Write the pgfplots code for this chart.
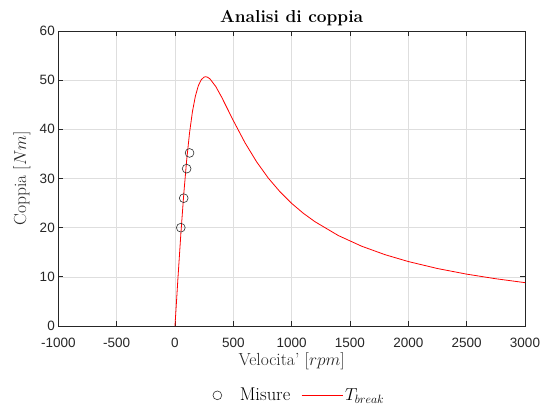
\documentclass[border=0pt]{standalone}
\usepackage{pgfplots}
\pgfplotsset{compat=1.18}
\usepackage{fontspec}
\newfontfamily\ticksf{Liberation Sans}

\definecolor{axgray}{RGB}{38,38,38}
\definecolor{gridgray}{RGB}{222,222,222}
\definecolor{markgray}{RGB}{45,45,45}

% measured torque points
\pgfplotstableread{
n    T
50   20.0
75   26.0
100  32.0
125  35.2
}\misure

% breakdown torque curve
\pgfplotstableread{
n     T
0     0
25    9.55
50    18.61
75    26.74
100   33.69
125   39.31
150   43.64
175   46.76
200   48.86
225   50.09
250   50.63
263   50.70
280   50.60
300   50.26
350   48.70
400   46.55
450   44.17
500   41.78
600   37.28
700   33.38
800   30.08
900   27.30
1000  24.94
1100  22.93
1200  21.21
1400  18.40
1600  16.23
1800  14.51
2000  13.11
2250  11.69
2500  10.55
2750  9.61
3000  8.82
}\tbreak

\begin{document}
\begin{tikzpicture}
\path[use as bounding box] (-58.3pt,-82pt) rectangle (490.7pt,326pt);
\begin{axis}[
  at={(0pt,0pt)}, anchor=south west,
  scale only axis, width=466.7pt, height=295pt,
  xmin=-1000, xmax=3000, ymin=0, ymax=60,
  xtick={-1000,-500,...,3000}, ytick={0,10,...,60},
  grid=major, major grid style={gridgray, line width=0.6pt},
  axis line style={axgray, line width=0.7pt},
  tick style={axgray, line width=0.7pt},
  tick align=inside, major tick length=5pt,
  xtick pos=both, ytick pos=both,
  /pgf/number format/assume math mode=true,
  /pgf/number format/1000 sep={},
  ticklabel style={font=\ticksf\fontsize{13.5}{16}\selectfont, text=axgray},
  xticklabel style={yshift=-9pt},
  title={\textbf{Analisi di coppia}},
  title style={font=\fontsize{17.3}{20}\selectfont, at={(0.5,1.025)}, anchor=center},
  xlabel={Velocita' $[rpm]$},
  ylabel={Coppia $[Nm]$},
  label style={font=\fontsize{17.5}{20}\selectfont, text=axgray},
  xlabel style={at={(0.5,-0.12)}, anchor=center},
  ylabel style={at={(-0.078,0.5)}, anchor=center},
  legend style={at={(0.517,-0.235)}, anchor=center, draw=none, fill=none,
    font=\fontsize{18.5}{21}\selectfont, legend columns=2,
    /tikz/every even column/.append style={column sep=9pt}},
  clip=false,
]
\addplot[only marks, mark=o, mark size=4.4pt, markgray, line width=0.6pt]
  table[x=n, y=T] {\misure};
\addlegendentry{\hspace{16pt}Misure}
\addplot[red, line width=0.8pt, legend image post style={xscale=2.4}]
  table[x=n, y=T] {\tbreak};
\addlegendentry{$T_{break}$}
\node[font=\ticksf\fontsize{13.5}{16}\selectfont, text=axgray, anchor=east]
  at ([xshift=-55pt,yshift=-16pt]rel axis cs:0,0) {3000};
\end{axis}
\end{tikzpicture}
\end{document}
